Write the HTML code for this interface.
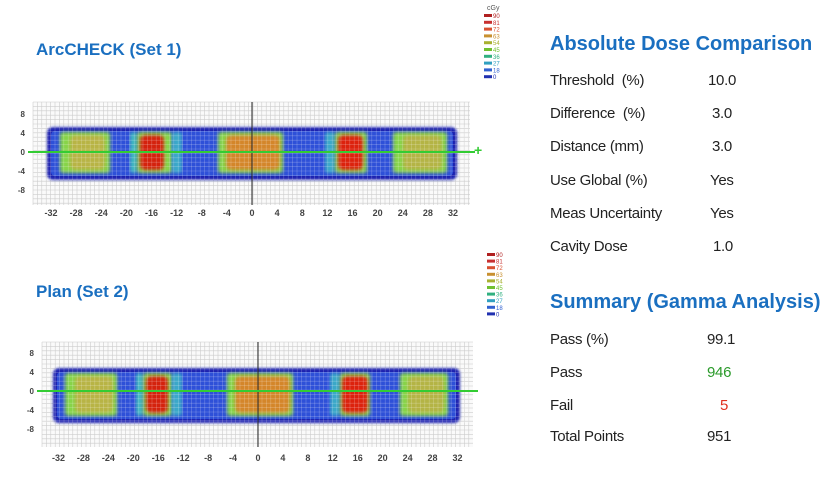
<!DOCTYPE html>
<html><head><meta charset="utf-8"><style>
body{margin:0;background:#fff;width:838px;height:483px;overflow:hidden;font-family:"Liberation Sans",sans-serif}
.t{position:absolute;color:#1a6fc0;font-weight:bold}
.r{position:absolute;font-size:15px;color:#222;letter-spacing:-0.3px}
</style></head><body>
<svg id="s" width="838" height="483" style="position:absolute;left:0;top:0">
<defs><filter id="b"><feGaussianBlur stdDeviation="1.8"/></filter><filter id="b2"><feGaussianBlur stdDeviation="1.2"/></filter></defs>
</svg>
<div class="t" style="left:36px;top:40px;font-size:17px">ArcCHECK (Set 1)</div>
<div class="t" style="left:36px;top:282px;font-size:17px">Plan (Set 2)</div>
<div class="t" style="left:550px;top:33px;font-size:20px">Absolute Dose Comparison</div>
<div class="t" style="left:550px;top:291px;font-size:20px">Summary (Gamma Analysis)</div>
<div class="r" style="left:550px;top:72px">Threshold &nbsp;(%)</div><div class="r" style="left:708px;top:72px">10.0</div>
<div class="r" style="left:550px;top:105px">Difference &nbsp;(%)</div><div class="r" style="left:712px;top:105px">3.0</div>
<div class="r" style="left:550px;top:138px">Distance (mm)</div><div class="r" style="left:712px;top:138px">3.0</div>
<div class="r" style="left:550px;top:172px">Use Global (%)</div><div class="r" style="left:710px;top:172px">Yes</div>
<div class="r" style="left:550px;top:205px">Meas Uncertainty</div><div class="r" style="left:710px;top:205px">Yes</div>
<div class="r" style="left:550px;top:238px">Cavity Dose</div><div class="r" style="left:713px;top:238px">1.0</div>
<div class="r" style="left:550px;top:331px">Pass (%)</div><div class="r" style="left:707px;top:331px">99.1</div>
<div class="r" style="left:550px;top:364px">Pass</div><div class="r" style="left:707px;top:364px;color:#2a9a2a">946</div>
<div class="r" style="left:550px;top:397px">Fail</div><div class="r" style="left:720px;top:397px;color:#e03020">5</div>
<div class="r" style="left:550px;top:428px">Total Points</div><div class="r" style="left:707px;top:428px">951</div>
<script>
const s=document.getElementById('s');let h='';
function plot(gx0,gx1,gy0,gy1,cx,ly,bx0,bx1,by0,by1,blocks,labY,yl){
 h+=`<rect x="${gx0}" y="${gy0}" width="${gx1-gx0}" height="${gy1-gy0}" fill="#fafafa"/>`;
 for(let x=gx0;x<=gx1;x+=4.4)h+=`<line x1="${x}" y1="${gy0}" x2="${x}" y2="${gy1}" stroke="#ccc" stroke-width="0.6"/>`;
 for(let y=gy0;y<=gy1;y+=4.4)h+=`<line x1="${gx0}" y1="${y}" x2="${gx1}" y2="${y}" stroke="#ccc" stroke-width="0.6"/>`;
 h+=`<rect x="${bx0}" y="${by0}" width="${bx1-bx0}" height="${by1-by0}" rx="6" fill="#1a22b0" filter="url(#b2)"/>`;
 h+=`<rect x="${bx0+4}" y="${by0+4}" width="${bx1-bx0-8}" height="${by1-by0-8}" rx="4" fill="#2e50d8"/>`;
 blocks.forEach(b=>{h+=`<rect x="${b[0]}" y="${by0+5}" width="${b[1]-b[0]}" height="${by1-by0-12}" rx="3" fill="${b[2]}" filter="url(#b)"/>`;
  if(b[3])h+=`<rect x="${b[3]}" y="${by0+8}" width="${b[4]-b[3]}" height="${by1-by0-18}" rx="5" fill="${b[5]}" filter="url(#b)"/>`;});
 for(let x=gx0;x<=gx1;x+=4.4)h+=`<line x1="${x}" y1="${by0}" x2="${x}" y2="${by1}" stroke="#fff" stroke-opacity="0.3" stroke-width="0.6"/>`;
 for(let y=by0;y<=by1;y+=4.4)h+=`<line x1="${bx0}" y1="${y}" x2="${bx1}" y2="${y}" stroke="#fff" stroke-opacity="0.3" stroke-width="0.6"/>`;
 h+=`<line x1="${cx}" y1="${gy0}" x2="${cx}" y2="${gy1}" stroke="#222" stroke-width="1"/>`;
 h+=`<line x1="${gx0-5}" y1="${ly}" x2="${gx1+5}" y2="${ly}" stroke="#3c3" stroke-width="2"/>`;
 const lab=[-32,-28,-24,-20,-16,-12,-8,-4,0,4,8,12,16,20,24,28,32];const st=(bx1-bx0-8)/64;
 lab.forEach(v=>h+=`<text x="${cx+v*st}" y="${labY}" font-size="9" font-weight="bold" fill="#444" text-anchor="middle" font-family="Liberation Sans">${v}</text>`);
 yl.forEach((v,i)=>h+=`<text x="${gx0-8}" y="${ly-38+i*19+3}" font-size="8" font-weight="bold" fill="#444" text-anchor="end" font-family="Liberation Sans">${v}</text>`);
}
const G='#86d44a';
plot(33,470,102,205,252,152,47,457,127,180,[[60,110,G,70,105,'#b8b444'],[130,137,'#40b8c0'],[137,172,G,140,164,'#d42010'],[172,182,'#3aa8c8'],[218,283,G,226,280,'#d4862a'],[325,335,'#3aa8c8'],[335,367,G,338,363,'#dc2010'],[393,447,G,403,442,'#b4b444']],216,[8,4,0,-4,-8]);
plot(42,473,342,447,258,391,53,460,368,423,[[65,117,G,75,113,'#b8b444'],[136,143,'#40b8c0'],[143,172,G,146,168,'#d42010'],[172,182,'#3aa8c8'],[227,293,G,235,290,'#d4862a'],[330,340,'#3aa8c8'],[340,370,G,342,368,'#dc2010'],[400,448,G,408,444,'#b4b444']],461,[8,4,0,-4,-8]);
const cs=['#b02020','#c83030','#d85030','#c89030','#a8b030','#70c030','#30b080','#30a0c0','#3060d0','#2030b0'];
const lv=['90','81','72','63','54','45','36','27','18','0'];
h+=`<text x="487" y="10" font-size="7" fill="#555" font-family="Liberation Sans">cGy</text>`;
cs.forEach((c,i)=>{h+=`<rect x="484" y="${14+i*6.8}" width="8" height="3" fill="${c}"/><text x="493" y="${18+i*6.8}" font-size="6" fill="${c}" font-family="Liberation Sans">${lv[i]}</text>`;
 h+=`<rect x="487" y="${253+i*6.6}" width="8" height="3" fill="${c}"/><text x="496" y="${257+i*6.6}" font-size="6" fill="${c}" font-family="Liberation Sans">${lv[i]}</text>`;});
h+=`<text x="474" y="155" font-size="14" fill="#3c3" font-weight="bold" font-family="Liberation Sans">+</text>`;
s.innerHTML+=h;
</script>
</body></html>
